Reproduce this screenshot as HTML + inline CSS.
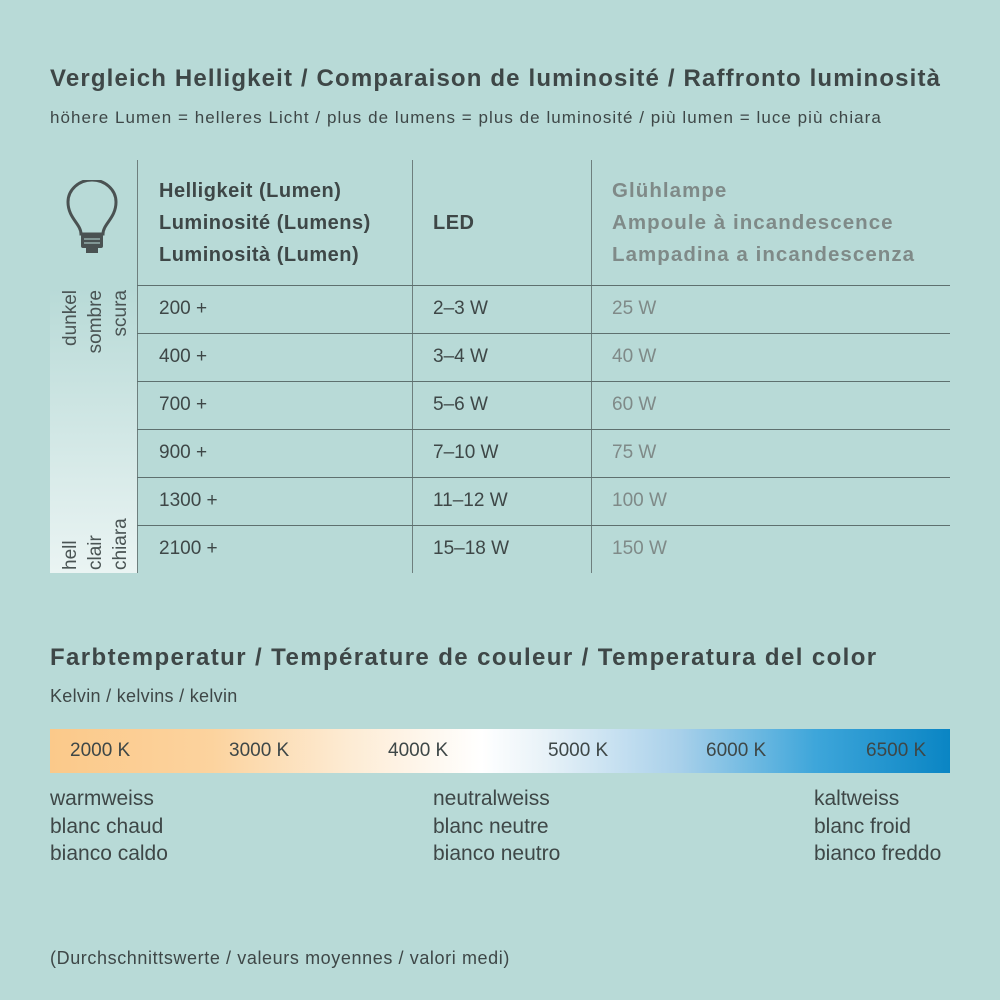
<!DOCTYPE html>
<html><head><style>
body{margin:0;width:1000px;height:1000px;background:#b8dad7;font-family:"Liberation Sans",sans-serif;color:#3e4747;position:relative;overflow:hidden}
.a{position:absolute;white-space:nowrap}
.h{font-weight:bold;font-size:24px;letter-spacing:1.15px}
.s{font-size:17px;letter-spacing:1.05px}
.c{font-size:19px}
.g{color:#7f8a88}
.vl{position:absolute;width:1px;background:#6e7f7e}
.hl{position:absolute;height:1px;background:#5e706f;left:137px;width:813px}
.b{font-weight:bold;font-size:20px;line-height:32px;letter-spacing:0.5px}
</style></head><body>
<div class="a h" style="left:50px;top:65px">Vergleich Helligkeit / Comparaison de luminosité / Raffronto luminosità</div>
<div class="a s" style="left:50px;top:108px">höhere Lumen = helleres Licht / plus de lumens = plus de luminosité / più lumen = luce più chiara</div>
<div class="a" style="left:50px;top:288px;width:87px;height:285px;background:linear-gradient(#b8dad7,#eaf4f3)"></div>
<div class="vl" style="left:137px;top:160px;height:413px"></div>
<div class="vl" style="left:412px;top:160px;height:413px"></div>
<div class="vl" style="left:591px;top:160px;height:413px"></div>
<div class="hl" style="top:285px"></div><div class="hl" style="top:333px"></div><div class="hl" style="top:381px"></div><div class="hl" style="top:429px"></div><div class="hl" style="top:477px"></div><div class="hl" style="top:525px"></div>
<svg class="a" style="left:64px;top:180px" width="56" height="80" viewBox="0 0 56 80"><path d="M17 54 C17 44 4 38 4 22 A24 22 0 0 1 52 22 C52 38 39 44 39 54 Z" fill="none" stroke="#4a5252" stroke-width="3"/><rect x="17" y="54" width="22" height="14" rx="2" fill="#4a5252"/><rect x="22" y="68" width="12" height="5" fill="#4a5252"/><line x1="20" y1="59" x2="36" y2="59" stroke="#b8dad7"/><line x1="20" y1="63" x2="36" y2="63" stroke="#b8dad7"/></svg>
<div class="a b" style="left:159px;top:175px">Helligkeit (Lumen)<br>Luminosité (Lumens)<br>Luminosità (Lumen)</div>
<div class="a b" style="left:433px;top:207px">LED</div>
<div class="a b g" style="left:612px;top:175px;font-size:20.5px;letter-spacing:1.05px">Glühlampe<br>Ampoule à incandescence<br>Lampadina a incandescenza</div>
<div class="a" style="left:56px;top:290px;width:80px;height:80px;"><div class="a" style="transform:rotate(-90deg);transform-origin:0 0;left:2px;top:78px;font-size:19px;line-height:25px;text-align:right;width:78px;color:#4a5454">dunkel<br>sombre<br>scura</div></div>
<div class="a" style="left:56px;top:492px;width:80px;height:80px;"><div class="a" style="transform:rotate(-90deg);transform-origin:0 0;left:2px;top:78px;font-size:19px;line-height:25px;width:78px;color:#4a5454">hell<br>clair<br>chiara</div></div>
<div class="a c" style="left:159px;top:298px">200 +</div><div class="a c" style="left:433px;top:298px">2–3 W</div><div class="a c g" style="left:612px;top:298px">25 W</div>
<div class="a c" style="left:159px;top:346px">400 +</div><div class="a c" style="left:433px;top:346px">3–4 W</div><div class="a c g" style="left:612px;top:346px">40 W</div>
<div class="a c" style="left:159px;top:394px">700 +</div><div class="a c" style="left:433px;top:394px">5–6 W</div><div class="a c g" style="left:612px;top:394px">60 W</div>
<div class="a c" style="left:159px;top:442px">900 +</div><div class="a c" style="left:433px;top:442px">7–10 W</div><div class="a c g" style="left:612px;top:442px">75 W</div>
<div class="a c" style="left:159px;top:490px">1300 +</div><div class="a c" style="left:433px;top:490px">11–12 W</div><div class="a c g" style="left:612px;top:490px">100 W</div>
<div class="a c" style="left:159px;top:538px">2100 +</div><div class="a c" style="left:433px;top:538px">15–18 W</div><div class="a c g" style="left:612px;top:538px">150 W</div>
<div class="a h" style="left:50px;top:644px;letter-spacing:1.4px">Farbtemperatur / Température de couleur / Temperatura del color</div>
<div class="a s" style="left:50px;top:686px;font-size:18px;letter-spacing:0.3px">Kelvin / kelvins / kelvin</div>
<div class="a" style="left:50px;top:729px;width:900px;height:44px;background:linear-gradient(90deg,#fbc98a 0%,#fcd39e 18%,#fdebd3 33%,#ffffff 48%,#e8f2f8 55%,#a8d0ea 70%,#3ea6da 85%,#0a85c4 100%)"></div>
<div class="a c" style="left:70px;top:740px">2000 K</div>
<div class="a c" style="left:229px;top:740px">3000 K</div>
<div class="a c" style="left:388px;top:740px">4000 K</div>
<div class="a c" style="left:548px;top:740px">5000 K</div>
<div class="a c" style="left:706px;top:740px">6000 K</div>
<div class="a c" style="left:866px;top:740px">6500 K</div>
<div class="a c" style="left:50px;top:785px;line-height:27.5px;font-size:21px">warmweiss<br>blanc chaud<br>bianco caldo</div>
<div class="a c" style="left:433px;top:785px;line-height:27.5px;font-size:21px">neutralweiss<br>blanc neutre<br>bianco neutro</div>
<div class="a c" style="left:814px;top:785px;line-height:27.5px;font-size:21px">kaltweiss<br>blanc froid<br>bianco freddo</div>
<div class="a s" style="left:50px;top:948px;font-size:18px;letter-spacing:0.6px">(Durchschnittswerte / valeurs moyennes / valori medi)</div>
</body></html>
